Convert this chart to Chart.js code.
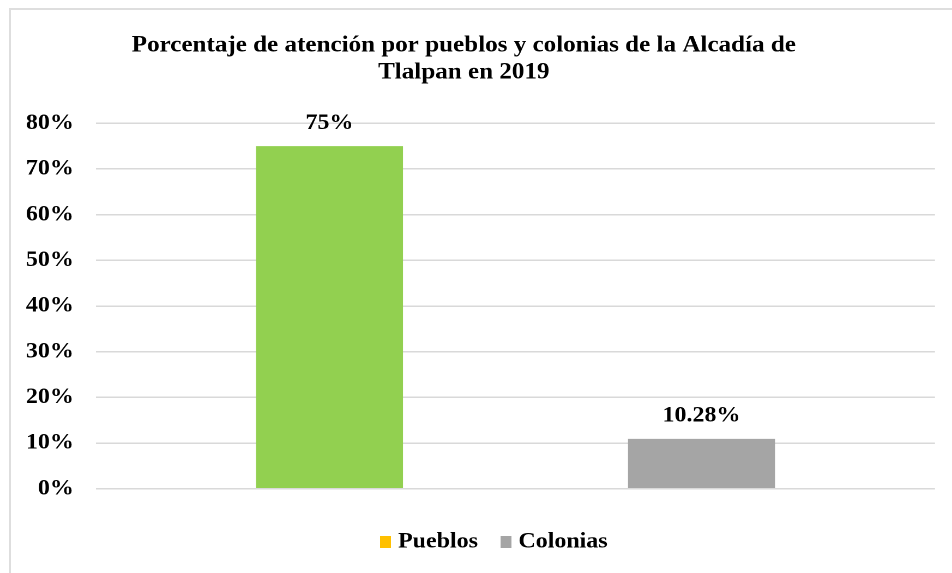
<!DOCTYPE html>
<html>
<head>
<meta charset="utf-8">
<script src="https://cdn.jsdelivr.net/npm/chart.js@4.4.1/dist/chart.umd.min.js"></script>
<style>
  html, body { margin: 0; padding: 0; background: #ffffff; overflow: hidden; }
  #wrap { position: relative; width: 952px; height: 573px; }
  #frame { position: absolute; left: 9px; top: 8px; width: 1000px; height: 1000px; border: 2px solid #dedede; box-sizing: border-box; }
  canvas#c { position: absolute; left: 0; top: 0; width: 952px !important; height: 573px !important; }
</style>
</head>
<body>
<div id="wrap">
  <div id="frame"></div>
  <canvas id="c" width="873" height="573"></canvas>
</div>
<script>
// ---- data ----
const titleLines = ['Porcentaje de atención por pueblos y colonias de la Alcadía de', 'Tlalpan en 2019'];
const seriesNames = ['Pueblos', 'Colonias'];
const seriesValues = [75, 10.9];
const valueLabels = ['75%', '10.28%'];
const barColors = ['#92D050', '#A5A5A5'];
const legendColors = ['#FFC000', '#A5A5A5'];
const yTicks = [0, 10, 20, 30, 40, 50, 60, 70, 80];

const FONT = "'Liberation Serif', 'Times New Roman', serif";

function swatch(color) {
  const c = document.createElement('canvas');
  c.width = 10; c.height = 12;
  const g = c.getContext('2d');
  g.fillStyle = color;
  g.fillRect(0, 0, 10, 12);
  return c;
}
const swatches = legendColors.map(swatch);

const valueLabelPlugin = {
  id: 'valueLabels',
  afterDatasetsDraw(chart) {
    const ctx = chart.ctx;
    ctx.save();
    ctx.font = 'bold 22px ' + FONT;
    ctx.fillStyle = '#000000';
    ctx.textAlign = 'center';
    ctx.textBaseline = 'middle';
    chart.data.datasets.forEach((ds, i) => {
      const meta = chart.getDatasetMeta(i);
      meta.data.forEach(el => {
        ctx.fillText(valueLabels[i], el.x, el.y - 23);
      });
    });
    ctx.restore();
  }
};

const boxShift = {
  id: 'boxShift',
  afterLayout(chart) {
    const lg = chart.legend;
    if (lg) { lg.left -= 17.6; lg.right -= 17.6; }
    const tb = chart.titleBlock;
    if (tb) { tb.left -= 3.4; tb.right -= 3.4; }
  }
};

new Chart(document.getElementById('c'), {
  type: 'bar',
  data: {
    labels: [''],
    datasets: seriesNames.map((name, i) => ({
      label: name,
      data: [seriesValues[i]],
      backgroundColor: barColors[i],
      borderWidth: 0,
      categoryPercentage: 0.8868,
      barPercentage: 0.3952
    }))
  },
  options: {
    responsive: false,
    animation: false,
    devicePixelRatio: 2,
    layout: { padding: { left: 0, right: 15.6, top: 0, bottom: 10 } },
    plugins: {
      tooltip: { enabled: false },
      title: {
        display: true,
        text: titleLines,
        color: '#000000',
        font: { family: FONT, size: 23, weight: 'bold', lineHeight: 1.174 },
        padding: { top: 32, bottom: 37.3 }
      },
      legend: {
        position: 'bottom',
        fullSize: false,
        labels: {
          color: '#000000',
          font: { family: FONT, size: 22, weight: 'bold' },
          usePointStyle: true,
          pointStyleWidth: 1,
          boxHeight: 11,
          padding: 25,
          generateLabels(chart) {
            return seriesNames.map((name, i) => ({
              text: name,
              fillStyle: legendColors[i],
              strokeStyle: legendColors[i],
              pointStyle: swatches[i],
              lineWidth: 0,
              hidden: false,
              datasetIndex: i
            }));
          }
        }
      }
    },
    scales: {
      x: {
        display: true,
        grid: { display: false },
        border: { display: false },
        ticks: { display: false },
        afterFit(axis) { axis.height = 17.3; }
      },
      y: {
        min: 0,
        max: 80,
        afterBuildTicks(axis) { axis.ticks = yTicks.map(v => ({ value: v })); },
        grid: { color: '#d9d9d9', lineWidth: 1.5, drawTicks: false },
        border: { display: false },
        ticks: {
          padding: 20.2,
          color: '#000000',
          font: { family: FONT, size: 22, weight: 'bold' },
          callback: v => v + '%'
        },
        afterFit(axis) { axis.width = 88; }
      }
    }
  },
  plugins: [valueLabelPlugin, boxShift]
});
</script>
</body>
</html>
